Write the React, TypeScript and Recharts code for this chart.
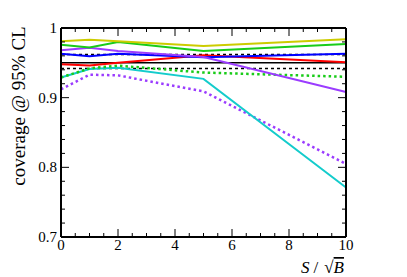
import React from "react";
import { LineChart, Line, XAxis, YAxis, ReferenceLine } from "recharts";

const xs = [0, 1, 2, 5, 10];
const yellow = [0.981, 0.983, 0.981, 0.974, 0.984];
const green = [0.976, 0.972, 0.98, 0.967, 0.977];
const purple = [0.968, 0.9715, 0.967, 0.9585, 0.908];
const blue = [0.963, 0.9595, 0.963, 0.958, 0.963];
const red = [0.948, 0.946, 0.95, 0.961, 0.951];
const greenDot = [0.929, 0.942, 0.946, 0.936, 0.93];
const cyan = [0.929, 0.941, 0.943, 0.927, 0.771];
const purpleDot = [0.912, 0.933, 0.932, 0.909, 0.805];

const refCentral = 0.95;
const refUpper = 0.962;
const refLower = 0.942;

const xMajor = [0, 2, 4, 6, 8, 10];
const xTicks = Array.from({ length: 21 }, (_, i) => i * 0.5);
const yMajor = [0.7, 0.8, 0.9, 1];
const yTicks = Array.from({ length: 16 }, (_, i) => Math.round((0.7 + i * 0.02) * 1000) / 1000);

const data = xs.map((x, i) => ({
  x,
  yellow: yellow[i],
  green: green[i],
  purple: purple[i],
  blue: blue[i],
  red: red[i],
  greenDot: greenDot[i],
  cyan: cyan[i],
  purpleDot: purpleDot[i],
}));

const FONT = "'Liberation Serif', 'Times New Roman', serif";

const isMajorX = (v: number) => xMajor.some((m) => Math.abs(m - v) < 1e-6);
const isMajorY = (v: number) => yMajor.some((m) => Math.abs(m - v) < 1e-6);
const fmtY = (v: number) => (Math.abs(v - 1) < 1e-6 ? "1" : v.toFixed(1));

const BottomTick = (props: any) => {
  const { x, y, payload } = props;
  const major = isMajorX(payload.value);
  const len = major ? 8 : 4;
  return (
    <g>
      <line x1={x} x2={x} y1={y} y2={y - len} stroke="#000" strokeWidth={1} />
      {major && (
        <text x={x} y={y + 13} textAnchor="middle" fontFamily={FONT} fontSize={15} fill="#000">
          {payload.value}
        </text>
      )}
    </g>
  );
};

const TopTick = (props: any) => {
  const { x, y, payload } = props;
  const major = isMajorX(payload.value);
  const len = major ? 8 : 4;
  return <line x1={x} x2={x} y1={y} y2={y + len} stroke="#000" strokeWidth={1} />;
};

const LeftTick = (props: any) => {
  const { x, y, payload } = props;
  const major = isMajorY(payload.value);
  const len = major ? 8 : 4;
  return (
    <g>
      <line x1={x} x2={x + len} y1={y} y2={y} stroke="#000" strokeWidth={1} />
      {major && (
        <text x={x - 4} y={y + 5} textAnchor="end" fontFamily={FONT} fontSize={15} fill="#000">
          {fmtY(payload.value)}
        </text>
      )}
    </g>
  );
};

const RightTick = (props: any) => {
  const { x, y, payload } = props;
  const major = isMajorY(payload.value);
  const len = major ? 8 : 4;
  return <line x1={x} x2={x - len} y1={y} y2={y} stroke="#000" strokeWidth={1} />;
};

const XTitle = () => (
  <text x={344} y={273} textAnchor="end" fontFamily={FONT} fontSize={17} fill="#000">
    <tspan fontStyle="italic">S</tspan>
    <tspan dx={4}>/</tspan>
    <tspan dx={6}>√</tspan>
    <tspan fontStyle="italic" textDecoration="overline">B</tspan>
  </text>
);

const YTitle = () => (
  <text
    x={0}
    y={0}
    transform="translate(25,106) rotate(-90)"
    textAnchor="middle"
    fontFamily={FONT}
    fontSize={19}
    fill="#000"
  >
    coverage @ 95% CL
  </text>
);

const series: { key: string; color: string; dash?: string; w: number }[] = [
  { key: "purpleDot", color: "#9b3cff", dash: "2.5 3", w: 2.5 },
  { key: "cyan", color: "#14cccc", w: 2 },
  { key: "greenDot", color: "#19cc19", dash: "2.5 3", w: 2.5 },
  { key: "red", color: "#ff0000", w: 2 },
  { key: "blue", color: "#0000ff", w: 2 },
  { key: "purple", color: "#9b3cff", w: 2 },
  { key: "green", color: "#19cc19", w: 2 },
  { key: "yellow", color: "#cccc00", w: 2 },
];

export default function App() {
  return (
    <div style={{ position: "absolute", left: 0, top: 0, width: 407, height: 277, background: "#fff" }}>
      <LineChart width={407} height={277} data={data} margin={{ top: 27, right: 60, bottom: 39, left: 60 }}>
        <XAxis
          xAxisId="bottom"
          dataKey="x"
          type="number"
          domain={[0, 10]}
          ticks={xTicks}
          interval={0}
          height={1}
          tickSize={0}
          tickMargin={0}
          tick={<BottomTick />}
          axisLine={{ stroke: "#000", strokeWidth: 2 }}
          label={{ content: () => <XTitle /> }}
        />
        <XAxis
          xAxisId="top"
          orientation="top"
          dataKey="x"
          type="number"
          domain={[0, 10]}
          ticks={xTicks}
          interval={0}
          height={1}
          tickSize={0}
          tickMargin={0}
          tick={<TopTick />}
          axisLine={{ stroke: "#000", strokeWidth: 2 }}
        />
        <YAxis
          yAxisId="left"
          type="number"
          domain={[0.7, 1]}
          ticks={yTicks}
          interval={0}
          width={1}
          tickSize={0}
          tickMargin={0}
          tick={<LeftTick />}
          axisLine={{ stroke: "#000", strokeWidth: 2 }}
          allowDataOverflow
          label={{ content: () => <YTitle /> }}
        />
        <YAxis
          yAxisId="right"
          orientation="right"
          type="number"
          domain={[0.7, 1]}
          ticks={yTicks}
          interval={0}
          width={1}
          tickSize={0}
          tickMargin={0}
          tick={<RightTick />}
          axisLine={{ stroke: "#000", strokeWidth: 2 }}
          allowDataOverflow
        />
        <ReferenceLine xAxisId="bottom" yAxisId="left" y={refCentral} stroke="#000" strokeWidth={1.5} />
        <ReferenceLine xAxisId="bottom" yAxisId="left" y={refUpper} stroke="#000" strokeWidth={1.5} strokeDasharray="3 3" />
        <ReferenceLine xAxisId="bottom" yAxisId="left" y={refLower} stroke="#000" strokeWidth={1.5} strokeDasharray="3 3" />
        {series.map((s) => (
          <Line
            key={s.key}
            xAxisId="bottom"
            yAxisId="left"
            type="linear"
            dataKey={s.key}
            stroke={s.color}
            strokeWidth={s.w}
            strokeDasharray={s.dash}
            dot={false}
            activeDot={false}
            isAnimationActive={false}
          />
        ))}
      </LineChart>
    </div>
  );
}
